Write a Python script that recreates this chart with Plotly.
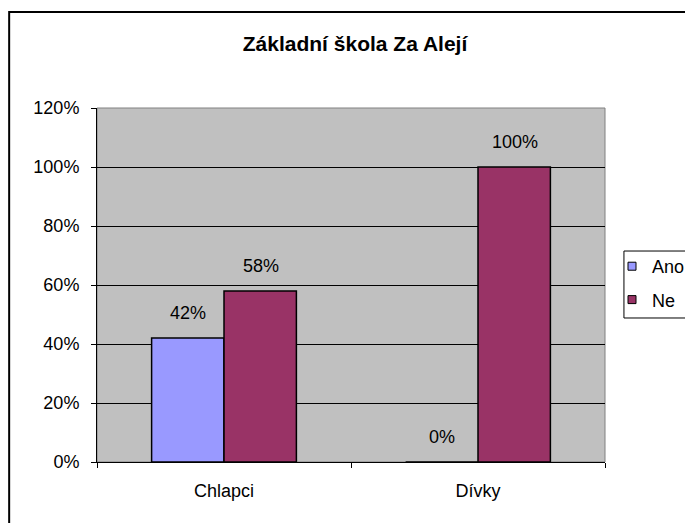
import plotly.graph_objects as go

categories = ["Chlapci", "Dívky"]
ano_values = [0.42, 0.0]
ne_values = [0.58, 1.0]
series_names = ["Ano", "Ne"]
tick_values = [0, 0.2, 0.4, 0.6, 0.8, 1.0, 1.2]
tick_labels = ["0%", "20%", "40%", "60%", "80%", "100%", "120%"]
title_text = "Základní škola Za Alejí"

FONT = "Liberation Sans, Arial, sans-serif"
colors = ["#9999FF", "#993366"]

fig = go.Figure()
for name, vals, col in zip(series_names, [ano_values, ne_values], colors):
    fig.add_trace(go.Bar(
        x=categories, y=vals, name=name, legendgroup=name, showlegend=False,
        marker=dict(color=col, line=dict(color="black", width=1.5)),
    ))
# legend entries with small square keys
for name, col in zip(series_names, colors):
    fig.add_trace(go.Scatter(
        x=[None], y=[None], mode="markers", name=name, legendgroup=name,
        marker=dict(symbol="square", size=8, color=col, line=dict(color="black", width=1)),
    ))

# data labels
for i, (name, vals) in enumerate(zip(series_names, [ano_values, ne_values])):
    shift = -36.5 if i == 0 else 36.5
    for c, v in zip(categories, vals):
        fig.add_annotation(x=c, y=v, xref="x", yref="y", text=f"{round(v*100)}%",
                           showarrow=False, xshift=shift, yshift=13, yanchor="bottom",
                           font=dict(family=FONT, size=18, color="black"))

# plot area border (gray), outer chart border, legend box
fig.add_shape(type="rect", xref="paper", yref="paper", x0=0, x1=1, y0=0, y1=1,
              line=dict(color="#808080", width=1), layer="below")
fig.add_shape(type="rect", xref="paper", yref="paper", x0=-0.1729, x1=1.6, y0=-0.4, y1=1.271,
              line=dict(color="black", width=2))
fig.add_shape(type="rect", xref="paper", yref="paper", x0=1.0373, x1=1.169, y0=0.4068, y1=0.596,
              line=dict(color="black", width=1), fillcolor="white")

fig.update_layout(
    width=693, height=523,
    margin=dict(l=89, r=95, t=100, b=69),
    paper_bgcolor="white", plot_bgcolor="#C0C0C0",
    barmode="group", bargap=0.43, bargroupgap=0,
    font=dict(family=FONT, size=18, color="black"),
    title=dict(text=f"<b>{title_text}</b>", x=347/693, xref="container", xanchor="center",
               y=1 - 36/523, yref="container", yanchor="middle",
               font=dict(family=FONT, size=21, color="black")),
    legend=dict(x=1.0118, y=0.6045, xanchor="left", yanchor="top",
                borderwidth=0, bgcolor="rgba(0,0,0,0)",
                tracegroupgap=7, itemwidth=30,
                font=dict(family=FONT, size=18, color="black")),
    showlegend=True,
)
fig.update_yaxes(range=[0, 1.2], tickvals=tick_values, ticktext=tick_labels,
                 showgrid=True, gridcolor="black", gridwidth=1,
                 showline=True, linecolor="black", linewidth=1,
                 ticks="outside", ticklen=5, tickcolor="black",
                 ticklabelstandoff=8, zeroline=False)
fig.update_xaxes(showline=True, linecolor="black", linewidth=1,
                 ticks="outside", ticklen=5, tickcolor="black", tickson="boundaries",
                 ticklabelstandoff=12, showgrid=False)

fig.write_html("out.html")
